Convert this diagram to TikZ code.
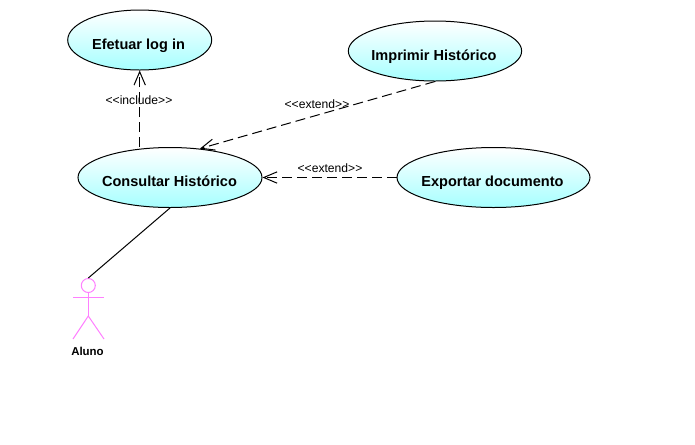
\documentclass[tikz,border=0pt]{standalone}
\usepackage{fontspec}
\setmainfont{Liberation Sans}
\usetikzlibrary{shapes.geometric,arrows.meta,calc}
\definecolor{ucfill}{HTML}{A6FFFF}
\definecolor{actorpink}{HTML}{FF80FF}
\tikzset{
  ucase/.style={ellipse,draw=black,line width=0.75pt,inner sep=0pt,top color=white,bottom color=ucfill,shading angle=0},
  uctext/.style={font=\fontsize{10.9pt}{12pt}\selectfont\bfseries,inner sep=0pt,text=black,anchor=base},
  stereo/.style={font=\fontsize{9.1pt}{10pt}\selectfont,inner sep=0pt,text=black,anchor=base},
  depends/.style={draw=black,line width=0.75pt,dash pattern=on 7.5pt off 3.75pt,-{Straight Barb[length=10pt,width=8.5pt,line width=0.75pt]}},
  assoc/.style={draw=black,line width=0.75pt},
  stick/.style={draw=actorpink,line width=0.75pt}
}
\begin{document}
\begin{tikzpicture}[x=0.75pt,y=-0.75pt]
\useasboundingbox (0,0) rectangle (695,444);
\fill[white] (0,0) rectangle (695,444);
% use cases
\node[ucase,minimum width=108pt,minimum height=45pt] (ef) at (139.7,40) {};
\node[uctext] (eft) at (138.5,49) {Efetuar log in};
\node[ucase,minimum width=130pt,minimum height=45pt] (imp) at (435,51) {};
\node[uctext] (impt) at (434,60) {Imprimir Histórico};
\node[ucase,minimum width=138pt,minimum height=45pt] (con) at (170,177.5) {};
\node[uctext] (cont) at (169.5,186) {Consultar Histórico};
\node[ucase,minimum width=144.75pt,minimum height=45pt] (exp) at (493.5,177.5) {};
\node[uctext] (expt) at (492.5,186) {Exportar documento};
% actor
\node[circle,stick,minimum size=10.5pt,inner sep=0pt] (head) at (88.3,285.5) {};
\coordinate (neck) at (88.3,297);
\coordinate (armL) at (73,297);
\coordinate (armR) at (104,297);
\coordinate (hip) at (88.3,316);
\coordinate (legL) at (73,339);
\coordinate (legR) at (104,339);
\draw[stick] (head.south) -- (hip);
\draw[stick] (armL) -- (armR);
\draw[stick] (legL) -- (hip) -- (legR);
\node[font=\fontsize{8.6pt}{10pt}\selectfont\bfseries,inner sep=0pt,anchor=base] (aluno) at (87.5,355) {Aluno};
% connectors
\draw[depends] (ef.south |- con.north) -- (ef.south);
\draw[depends] (imp.south) -- (con.44);
\draw[depends] (exp.west) -- (con.east);
\draw[assoc] (con.south) -- (head.north);
% labels
\node[stereo] (l1) at (139,104) {<{}<include>{}>};
\node[stereo] (l2) at (317,108) {<{}<extend>{}>};
\node[stereo] (l3) at (330,172) {<{}<extend>{}>};
\end{tikzpicture}
\end{document}
